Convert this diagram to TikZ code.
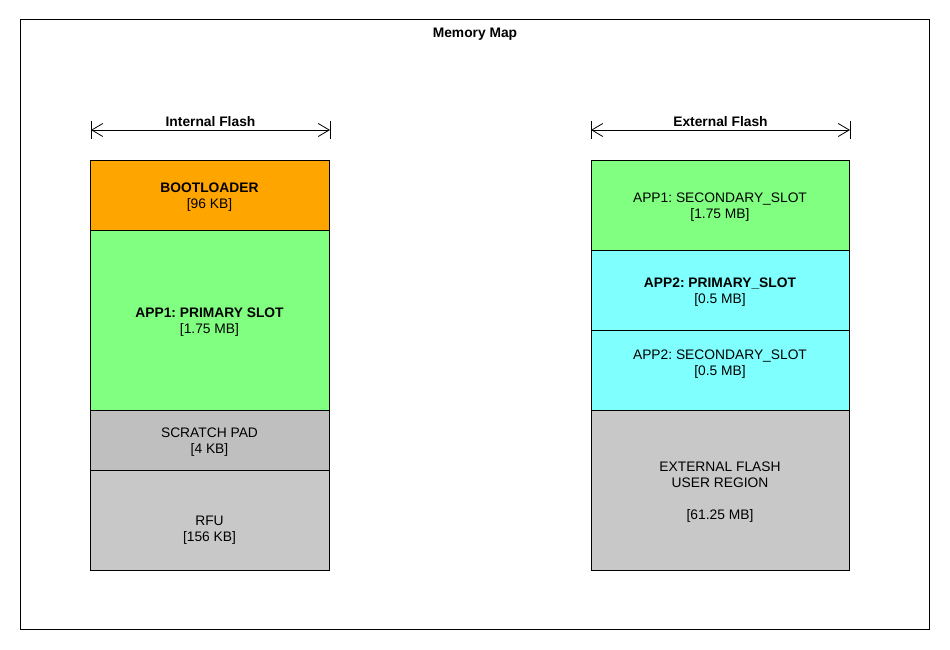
\documentclass[tikz,border=0pt]{standalone}
\usepackage{fontspec}
\setmainfont{Liberation Sans}
\usetikzlibrary{arrows.meta}
\frenchspacing
\definecolor{cBoot}{HTML}{FFA500}
\definecolor{cGreen}{HTML}{80FF80}
\definecolor{cCyan}{HTML}{80FFFF}
\definecolor{cScratch}{HTML}{BFBFBF}
\definecolor{cGrey}{HTML}{C8C8C8}
\newcommand{\blktext}[1]{\raisebox{0pt}[\dimexpr\height+4pt\relax][\depth]{\begin{tabular}{@{}c@{}}#1\end{tabular}}}
\begin{document}
\begin{tikzpicture}[x=1pt,y=-1pt,
  every node/.style={font=\fontsize{13.8}{16}\selectfont, inner sep=0pt},
  block/.style={draw=black, line width=1pt, rectangle, align=center, text=black},
  lblock/.style={block, minimum width=239pt},
  rblock/.style={block, minimum width=258pt},
  dimline/.style={line width=0.8pt, {Straight Barb[length=11pt,width=13pt]}-{Straight Barb[length=11pt,width=13pt]}},
  tick/.style={line width=0.8pt},
  heading/.style={font=\fontsize{13.8}{16}\selectfont\bfseries}]
\useasboundingbox (0,0) rectangle (950,650);
\draw[line width=1pt] (20,20) rectangle (929,629);
\node[heading] (title) at (475,34.5) {Memory Map};

% Internal flash
\coordinate (il) at (91,130);
\coordinate (ir) at (330,130);
\draw[tick] (91,121) -- (91,139);
\draw[tick] (330,121) -- (330,139);
\draw[dimline] (il) -- (ir);
\node[heading] (intlbl) at (210.5,122) {Internal Flash};

\node[lblock, fill=cBoot, minimum height=70pt] (boot) at (209.5,195) {\blktext{\textbf{BOOTLOADER}\\{[96 KB]}}};
\node[lblock, fill=cGreen, minimum height=180pt] (app1p) at (209.5,320) {\blktext{\textbf{APP1: PRIMARY SLOT}\\{[1.75 MB]}}};
\node[lblock, fill=cScratch, minimum height=60pt] (scratch) at (209.5,440) {\blktext{SCRATCH PAD\\{[4 KB]}}};
\node[lblock, fill=cGrey, minimum height=100pt] (rfu) at (209.5,520) {\blktext{\mbox{}\\RFU\\{[156 KB]}}};

% External flash
\coordinate (el) at (591,130);
\coordinate (er) at (850,130);
\draw[tick] (591,121) -- (591,139);
\draw[tick] (850,121) -- (850,139);
\draw[dimline] (el) -- (er);
\node[heading] (extlbl) at (720.5,122) {External Flash};

\node[rblock, fill=cGreen, minimum height=90pt] (app1s) at (720,205) {\blktext{APP1: SECONDARY\_SLOT\\{[1.75 MB]}}};
\node[rblock, fill=cCyan, minimum height=80pt] (app2p) at (720,290) {\blktext{\textbf{APP2: PRIMARY\_SLOT}\\{[0.5 MB]}}};
\node[rblock, fill=cCyan, minimum height=80pt] (app2s) at (720,370) {\blktext{APP2: SECONDARY\_SLOT\\{[0.5 MB]}\\\mbox{}}};
\node[rblock, fill=cGrey, minimum height=160pt] (ext) at (720,490) {\blktext{EXTERNAL FLASH\\USER REGION\\\mbox{}\\{[61.25 MB]}}};
\end{tikzpicture}
\end{document}
